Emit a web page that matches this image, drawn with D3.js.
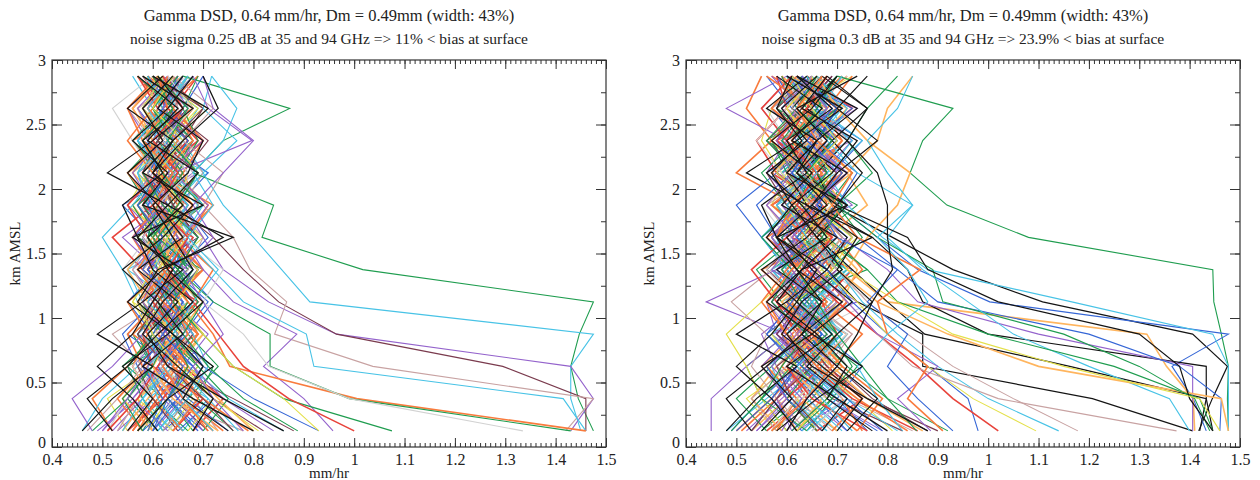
<!DOCTYPE html>
<html><head><meta charset="utf-8">
<script src="https://cdn.jsdelivr.net/npm/d3@7"></script>
<style>
body{margin:0;background:#fff}
svg{display:block}
text{font-family:"Liberation Serif","Times New Roman",serif;fill:#222}
</style>
</head><body>
<svg id="c" width="1260" height="480"></svg>
<script>
// ---------------- DATA ----------------
const heights = [0.125,0.375,0.625,0.875,1.125,1.375,1.625,1.875,2.125,2.375,2.625,2.875];
const xTickValues = [0.4,0.5,0.6,0.7,0.8,0.9,1,1.1,1.2,1.3,1.4,1.5];
const yTickValues = [0,0.5,1,1.5,2,2.5,3];
const titleLine1 = ["Gamma DSD, 0.64 mm/hr, Dm = 0.49mm (width: 43%)","Gamma DSD, 0.64 mm/hr, Dm = 0.49mm (width: 43%)"];
const titleLine2 = ["noise sigma 0.25 dB at 35 and 94 GHz => 11% < bias at surface","noise sigma 0.3 dB at 35 and 94 GHz => 23.9% < bias at surface"];
const xLabel = "mm/hr";
const yLabel = "km AMSL";

// profiles: values (mm/hr) at each height, bottom to top
const leftBundle = [
[0.58,0.62,0.55,0.66,0.60,0.70,0.57,0.64,0.59,0.68,0.61,0.63],
[0.66,0.59,0.68,0.57,0.64,0.55,0.67,0.60,0.71,0.58,0.65,0.60],
[0.50,0.56,0.62,0.58,0.67,0.61,0.54,0.63,0.57,0.66,0.59,0.62],
[0.72,0.65,0.58,0.69,0.62,0.57,0.66,0.72,0.61,0.56,0.68,0.64],
[0.62,0.70,0.64,0.55,0.61,0.68,0.60,0.54,0.65,0.62,0.57,0.66],
[0.55,0.51,0.60,0.64,0.57,0.63,0.70,0.62,0.56,0.64,0.71,0.58],
[0.68,0.74,0.66,0.61,0.69,0.59,0.63,0.67,0.58,0.61,0.64,0.69],
[0.47,0.53,0.58,0.52,0.62,0.66,0.58,0.61,0.67,0.60,0.55,0.61],
[0.60,0.57,0.65,0.70,0.63,0.58,0.61,0.56,0.63,0.70,0.62,0.57],
[0.76,0.69,0.72,0.63,0.58,0.64,0.59,0.66,0.60,0.57,0.63,0.67],
[0.53,0.60,0.56,0.62,0.66,0.60,0.65,0.58,0.69,0.63,0.58,0.65],
[0.64,0.58,0.62,0.59,0.55,0.62,0.68,0.63,0.57,0.65,0.69,0.60],
[0.57,0.66,0.71,0.65,0.60,0.54,0.59,0.65,0.62,0.56,0.61,0.68],
[0.70,0.63,0.59,0.67,0.72,0.66,0.61,0.57,0.64,0.60,0.66,0.62],
[0.52,0.48,0.55,0.60,0.57,0.64,0.62,0.68,0.60,0.63,0.58,0.64],
[0.82,0.72,0.64,0.60,0.66,0.61,0.56,0.62,0.66,0.71,0.63,0.59],
[0.61,0.55,0.60,0.56,0.63,0.69,0.64,0.59,0.55,0.61,0.67,0.62],
[0.66,0.71,0.61,0.65,0.59,0.63,0.57,0.64,0.70,0.66,0.60,0.56],
[0.49,0.57,0.63,0.68,0.61,0.56,0.62,0.58,0.64,0.59,0.55,0.63],
[0.74,0.66,0.70,0.62,0.68,0.72,0.65,0.61,0.58,0.64,0.62,0.69],
[0.59,0.64,0.57,0.54,0.60,0.65,0.71,0.66,0.61,0.67,0.60,0.65],
[0.63,0.68,0.62,0.66,0.56,0.60,0.63,0.55,0.59,0.62,0.70,0.61],
[0.56,0.61,0.66,0.59,0.64,0.58,0.52,0.60,0.66,0.58,0.63,0.57],
[0.78,0.62,0.57,0.63,0.69,0.64,0.60,0.67,0.63,0.69,0.65,0.62],
[0.54,0.59,0.64,0.70,0.65,0.59,0.66,0.62,0.56,0.60,0.57,0.66],
[0.67,0.60,0.54,0.61,0.58,0.67,0.62,0.70,0.65,0.59,0.64,0.60],
[0.60,0.66,0.60,0.57,0.63,0.57,0.64,0.59,0.68,0.64,0.59,0.63],
[0.86,0.75,0.67,0.64,0.60,0.62,0.58,0.63,0.60,0.66,0.61,0.67],
[0.51,0.55,0.61,0.66,0.70,0.63,0.67,0.57,0.62,0.57,0.66,0.61],
[0.65,0.72,0.68,0.60,0.55,0.61,0.56,0.65,0.71,0.62,0.58,0.64],
[0.58,0.53,0.59,0.64,0.62,0.70,0.63,0.60,0.55,0.63,0.68,0.59],
[0.71,0.64,0.60,0.58,0.65,0.59,0.69,0.64,0.60,0.67,0.62,0.66],
[0.62,0.67,0.73,0.67,0.61,0.65,0.60,0.56,0.63,0.58,0.64,0.60],
[0.46,0.50,0.57,0.62,0.58,0.55,0.61,0.67,0.62,0.65,0.60,0.64],
[0.69,0.62,0.66,0.71,0.64,0.60,0.58,0.62,0.58,0.61,0.67,0.63],
[0.57,0.63,0.58,0.55,0.61,0.66,0.64,0.69,0.66,0.60,0.56,0.62],
[0.93,0.80,0.70,0.66,0.62,0.58,0.64,0.60,0.64,0.57,0.62,0.68],
[0.64,0.57,0.63,0.60,0.67,0.63,0.57,0.62,0.57,0.63,0.69,0.61],
[0.55,0.62,0.67,0.63,0.58,0.64,0.68,0.58,0.61,0.69,0.63,0.58],
[0.73,0.68,0.61,0.68,0.63,0.57,0.62,0.66,0.70,0.65,0.60,0.65],
[0.60,0.54,0.59,0.65,0.70,0.62,0.66,0.61,0.58,0.62,0.58,0.62],
[0.68,0.63,0.69,0.62,0.57,0.61,0.59,0.64,0.62,0.56,0.62,0.66],
[0.52,0.58,0.55,0.61,0.64,0.68,0.61,0.55,0.60,0.64,0.67,0.60],
[0.77,0.71,0.65,0.59,0.62,0.66,0.63,0.67,0.61,0.67,0.61,0.63],
[0.63,0.69,0.62,0.67,0.60,0.56,0.65,0.60,0.66,0.61,0.57,0.67],
[0.58,0.65,0.70,0.63,0.66,0.62,0.58,0.63,0.59,0.64,0.64,0.59],
[0.66,0.60,0.56,0.59,0.55,0.63,0.67,0.71,0.64,0.59,0.61,0.64],
[0.88,0.76,0.63,0.68,0.64,0.59,0.62,0.58,0.62,0.66,0.70,0.62],
[0.48,0.55,0.60,0.57,0.62,0.65,0.60,0.64,0.69,0.63,0.60,0.66],
[0.61,0.66,0.64,0.69,0.66,0.60,0.64,0.59,0.57,0.60,0.65,0.58],
[0.70,0.65,0.58,0.62,0.59,0.67,0.56,0.61,0.65,0.68,0.62,0.65],
[0.56,0.60,0.65,0.56,0.63,0.58,0.63,0.68,0.61,0.58,0.55,0.61],
[0.75,0.67,0.62,0.66,0.71,0.64,0.69,0.63,0.59,0.63,0.66,0.70],
[0.59,0.63,0.69,0.64,0.58,0.62,0.57,0.65,0.67,0.61,0.68,0.63],
[0.64,0.70,0.60,0.58,0.64,0.69,0.62,0.57,0.63,0.70,0.64,0.60],
[0.53,0.57,0.62,0.67,0.60,0.56,0.60,0.66,0.58,0.62,0.59,0.62],
[0.80,0.73,0.67,0.62,0.67,0.61,0.65,0.62,0.66,0.59,0.63,0.67],
[0.62,0.58,0.55,0.60,0.65,0.63,0.59,0.70,0.63,0.67,0.60,0.64],
[0.48,0.44,0.52,0.58,0.63,0.59,0.64,0.60,0.66,0.61,0.57,0.63],
[0.62,0.58,0.64,0.60,0.57,0.54,0.50,0.56,0.61,0.65,0.60,0.66],
[0.60,0.64,0.59,0.66,0.62,0.58,0.63,0.57,0.60,0.56,0.52,0.60],
[0.60,0.65,0.61,0.67,0.63,0.59,0.65,0.61,0.67,0.62,0.66,0.61],
[0.57,0.61,0.67,0.61,0.57,0.63,0.60,0.66,0.60,0.65,0.59,0.65],
[0.65,0.60,0.57,0.63,0.68,0.62,0.58,0.63,0.58,0.61,0.67,0.62],
[0.70,0.75,0.69,0.64,0.61,0.67,0.63,0.58,0.64,0.68,0.62,0.59],
[0.54,0.58,0.63,0.58,0.62,0.57,0.62,0.67,0.62,0.57,0.62,0.67],
[0.63,0.56,0.61,0.66,0.62,0.68,0.65,0.60,0.56,0.62,0.67,0.63],
[0.79,0.70,0.64,0.69,0.65,0.60,0.56,0.61,0.66,0.70,0.64,0.60],
[0.59,0.62,0.58,0.62,0.68,0.64,0.67,0.63,0.69,0.64,0.58,0.62],
[0.67,0.72,0.66,0.60,0.56,0.60,0.63,0.68,0.63,0.58,0.63,0.68],
[0.51,0.57,0.61,0.65,0.60,0.64,0.59,0.55,0.61,0.67,0.61,0.57],
[0.62,0.67,0.62,0.58,0.62,0.67,0.70,0.64,0.59,0.62,0.65,0.64],
[0.73,0.64,0.60,0.64,0.59,0.55,0.60,0.66,0.64,0.60,0.56,0.61],
[0.58,0.54,0.60,0.63,0.67,0.63,0.61,0.57,0.65,0.69,0.66,0.69],
[0.84,0.74,0.68,0.62,0.66,0.62,0.66,0.62,0.58,0.64,0.60,0.65],
[0.61,0.67,0.71,0.68,0.63,0.60,0.64,0.69,0.62,0.57,0.62,0.59],
[0.55,0.60,0.56,0.61,0.57,0.62,0.58,0.63,0.68,0.63,0.67,0.62],
[0.69,0.63,0.66,0.60,0.64,0.69,0.62,0.59,0.63,0.67,0.61,0.66],
[0.64,0.69,0.64,0.69,0.62,0.57,0.61,0.65,0.60,0.55,0.60,0.63],
[0.76,0.70,0.63,0.57,0.61,0.65,0.69,0.64,0.61,0.64,0.70,0.60],
[0.57,0.63,0.67,0.64,0.69,0.65,0.59,0.61,0.66,0.61,0.64,0.57],
[0.66,0.61,0.59,0.65,0.59,0.63,0.66,0.60,0.57,0.63,0.59,0.64],
[0.50,0.55,0.59,0.63,0.58,0.61,0.56,0.62,0.64,0.60,0.63,0.68],
[0.71,0.66,0.62,0.67,0.64,0.70,0.64,0.68,0.62,0.68,0.64,0.61],
[0.60,0.63,0.68,0.62,0.66,0.58,0.62,0.57,0.61,0.59,0.62,0.65],
[0.81,0.72,0.65,0.60,0.57,0.61,0.67,0.63,0.69,0.64,0.58,0.62]
];
const leftBlack = [
[0.46,0.52,0.60,0.49,0.58,0.66,0.56,0.70,0.58,0.64,0.55,0.62],
[0.57,0.63,0.72,0.64,0.55,0.62,0.74,0.63,0.51,0.60,0.68,0.58],
[0.80,0.68,0.58,0.66,0.61,0.54,0.62,0.68,0.60,0.66,0.73,0.70],
[0.52,0.47,0.55,0.61,0.68,0.60,0.57,0.54,0.62,0.58,0.66,0.61],
[0.68,0.72,0.65,0.58,0.62,0.68,0.64,0.60,0.67,0.70,0.61,0.66],
[0.86,0.74,0.63,0.59,0.65,0.57,0.66,0.61,0.55,0.62,0.58,0.64],
[0.61,0.56,0.49,0.56,0.60,0.64,0.57,0.63,0.69,0.59,0.65,0.57],
[0.75,0.66,0.70,0.64,0.57,0.61,0.76,0.58,0.63,0.56,0.63,0.68],
[0.55,0.60,0.54,0.63,0.70,0.63,0.59,0.66,0.60,0.64,0.71,0.60]
];
const leftTails = [
[1.475,1.445,1.43,1.447,1.475,1.017,0.817,0.84,0.68,0.74,0.872,0.66],
[1.45,1.43,1.43,1.475,0.912,0.856,0.80,0.74,0.70,0.767,0.70,0.717],
[1.43,1.475,1.43,0.965,0.83,0.74,0.70,0.66,0.63,0.70,0.62,0.66],
[1.46,1.46,1.295,0.965,0.85,0.78,0.72,0.64,0.69,0.61,0.66,0.60],
[1.42,1.475,1.037,0.842,0.866,0.793,0.76,0.70,0.74,0.66,0.72,0.64],
[0.958,0.90,0.82,0.886,0.76,0.70,0.66,0.71,0.64,0.797,0.71,0.68],
[1.46,1.415,0.92,0.905,0.78,0.72,0.66,0.70,0.64,0.60,0.63,0.67],
[1.46,1.005,0.753,0.72,0.67,0.62,0.66,0.60,0.64,0.58,0.63,0.61],
[1.43,0.99,0.833,0.833,0.72,0.65,0.69,0.62,0.58,0.64,0.60,0.65],
[1.335,0.99,0.83,0.78,0.70,0.74,0.66,0.61,0.67,0.62,0.68,0.63],
[1.075,0.86,0.76,0.70,0.64,0.68,0.61,0.66,0.62,0.58,0.64,0.60],
[1.0,0.87,0.78,0.73,0.68,0.63,0.67,0.61,0.65,0.60,0.66,0.62],
[0.93,0.86,0.76,0.70,0.65,0.69,0.62,0.66,0.61,0.66,0.60,0.64],
[0.888,0.78,0.71,0.66,0.70,0.64,0.60,0.65,0.69,0.63,0.67,0.61],
[0.72,0.66,0.70,0.64,0.68,0.73,0.67,0.72,0.68,0.74,0.767,0.717],
[0.78,0.72,0.68,0.74,0.70,0.66,0.72,0.68,0.74,0.80,0.72,0.70]
];
const leftTailColors = ["green","cyan","purple","maroon","rosy","purple","cyan","orange","green","gray","green","red","yellow","green","cyan","purple"];

const rightBundle = [
[0.55,0.63,0.71,0.60,0.68,0.57,0.66,0.74,0.62,0.69,0.58,0.65],
[0.70,0.61,0.56,0.67,0.59,0.72,0.63,0.58,0.70,0.61,0.67,0.60],
[0.62,0.72,0.65,0.57,0.74,0.64,0.56,0.65,0.59,0.73,0.64,0.69],
[0.50,0.57,0.63,0.70,0.62,0.55,0.69,0.61,0.67,0.58,0.71,0.62],
[0.78,0.68,0.60,0.64,0.70,0.63,0.59,0.70,0.64,0.62,0.57,0.66],
[0.58,0.52,0.61,0.66,0.58,0.67,0.74,0.63,0.56,0.66,0.62,0.73],
[0.66,0.75,0.68,0.62,0.65,0.60,0.66,0.57,0.68,0.59,0.70,0.62],
[0.85,0.72,0.66,0.73,0.64,0.70,0.61,0.67,0.61,0.69,0.63,0.58],
[0.53,0.60,0.55,0.62,0.71,0.62,0.58,0.64,0.73,0.65,0.57,0.64],
[0.64,0.69,0.74,0.66,0.60,0.76,0.67,0.60,0.66,0.56,0.66,0.71],
[0.72,0.64,0.58,0.55,0.63,0.58,0.64,0.71,0.58,0.64,0.74,0.60],
[0.48,0.56,0.64,0.69,0.60,0.65,0.71,0.66,0.62,0.70,0.61,0.67],
[0.61,0.67,0.60,0.64,0.77,0.68,0.60,0.55,0.65,0.61,0.58,0.64],
[0.76,0.70,0.62,0.59,0.66,0.61,0.55,0.63,0.69,0.75,0.65,0.62],
[0.57,0.62,0.69,0.75,0.67,0.59,0.64,0.70,0.60,0.63,0.68,0.57],
[0.88,0.77,0.70,0.64,0.58,0.66,0.62,0.58,0.64,0.58,0.63,0.69],
[0.60,0.55,0.52,0.60,0.65,0.71,0.63,0.68,0.73,0.66,0.60,0.63],
[0.67,0.73,0.66,0.70,0.62,0.57,0.68,0.62,0.57,0.64,0.71,0.66],
[0.52,0.59,0.66,0.58,0.56,0.64,0.59,0.73,0.66,0.60,0.55,0.61],
[0.74,0.66,0.59,0.63,0.69,0.75,0.70,0.64,0.60,0.68,0.64,0.72],
[0.63,0.70,0.75,0.67,0.61,0.63,0.57,0.66,0.70,0.62,0.66,0.60],
[0.81,0.74,0.64,0.56,0.64,0.60,0.65,0.59,0.63,0.57,0.62,0.66],
[0.56,0.64,0.60,0.66,0.72,0.66,0.73,0.67,0.57,0.65,0.73,0.64],
[0.69,0.62,0.68,0.73,0.65,0.56,0.62,0.56,0.62,0.70,0.60,0.68],
[0.59,0.53,0.58,0.65,0.60,0.69,0.66,0.71,0.67,0.62,0.67,0.59],
[0.92,0.80,0.72,0.65,0.70,0.64,0.59,0.65,0.59,0.66,0.58,0.63],
[0.54,0.61,0.67,0.62,0.57,0.61,0.67,0.62,0.71,0.58,0.64,0.70],
[0.65,0.71,0.63,0.57,0.66,0.72,0.64,0.58,0.65,0.72,0.69,0.61],
[0.73,0.67,0.72,0.68,0.61,0.66,0.60,0.69,0.62,0.60,0.56,0.65],
[0.49,0.55,0.62,0.71,0.64,0.58,0.70,0.63,0.56,0.67,0.62,0.58],
[0.62,0.58,0.65,0.61,0.68,0.63,0.56,0.67,0.64,0.69,0.65,0.67],
[0.83,0.69,0.61,0.68,0.62,0.70,0.66,0.60,0.68,0.63,0.71,0.62],
[0.57,0.65,0.70,0.64,0.59,0.54,0.62,0.70,0.61,0.57,0.63,0.70],
[0.68,0.60,0.57,0.63,0.73,0.67,0.73,0.66,0.59,0.65,0.59,0.64],
[0.61,0.68,0.64,0.58,0.65,0.60,0.65,0.59,0.67,0.73,0.66,0.60],
[0.75,0.71,0.66,0.72,0.60,0.64,0.58,0.64,0.70,0.61,0.68,0.73],
[0.53,0.58,0.62,0.67,0.63,0.69,0.64,0.71,0.64,0.68,0.61,0.66],
[0.66,0.62,0.69,0.60,0.56,0.62,0.69,0.57,0.60,0.64,0.70,0.62],
[0.86,0.73,0.65,0.70,0.67,0.73,0.61,0.68,0.66,0.58,0.64,0.68],
[0.60,0.66,0.58,0.64,0.70,0.59,0.67,0.62,0.72,0.63,0.57,0.65],
[0.70,0.63,0.71,0.66,0.59,0.66,0.71,0.65,0.58,0.66,0.72,0.61],
[0.56,0.50,0.57,0.63,0.67,0.62,0.57,0.64,0.69,0.61,0.66,0.63],
[0.79,0.68,0.63,0.58,0.64,0.70,0.65,0.72,0.64,0.70,0.63,0.57],
[0.64,0.72,0.67,0.72,0.63,0.57,0.63,0.58,0.63,0.59,0.68,0.66],
[0.58,0.63,0.70,0.65,0.71,0.65,0.70,0.66,0.70,0.64,0.60,0.72],
[0.72,0.66,0.60,0.67,0.62,0.68,0.60,0.63,0.57,0.62,0.65,0.61],
[0.51,0.58,0.64,0.59,0.66,0.61,0.66,0.70,0.66,0.71,0.67,0.64],
[0.90,0.76,0.68,0.63,0.57,0.64,0.69,0.61,0.68,0.65,0.59,0.67],
[0.62,0.69,0.63,0.69,0.65,0.72,0.62,0.67,0.60,0.57,0.64,0.60],
[0.68,0.61,0.67,0.62,0.69,0.60,0.58,0.65,0.71,0.66,0.71,0.65],
[0.45,0.45,0.52,0.60,0.44,0.58,0.64,0.59,0.66,0.61,0.68,0.63],
[0.58,0.62,0.56,0.63,0.60,0.66,0.58,0.62,0.50,0.57,0.52,0.55],
[0.63,0.57,0.62,0.56,0.64,0.60,0.55,0.50,0.58,0.66,0.60,0.64],
[0.60,0.55,0.52,0.48,0.55,0.62,0.57,0.63,0.59,0.55,0.57,0.62],
[0.66,0.60,0.67,0.62,0.58,0.64,0.60,0.66,0.58,0.54,0.60,0.58],
[0.64,0.58,0.53,0.56,0.49,0.57,0.63,0.58,0.64,0.60,0.66,0.61],
[0.62,0.67,0.60,0.66,0.71,0.74,0.68,0.76,0.72,0.78,0.80,0.85],
[0.66,0.60,0.65,0.70,0.64,0.69,0.75,0.70,0.77,0.72,0.76,0.82],
[0.61,0.58,0.64,0.60,0.66,0.61,0.57,0.62,0.56,0.60,0.48,0.60],
[0.63,0.70,0.64,0.71,0.65,0.59,0.67,0.62,0.69,0.63,0.68,0.62],
[0.57,0.62,0.69,0.62,0.56,0.64,0.60,0.68,0.61,0.67,0.59,0.67],
[0.67,0.60,0.56,0.64,0.71,0.64,0.58,0.65,0.58,0.62,0.70,0.63],
[0.74,0.79,0.71,0.65,0.61,0.69,0.64,0.57,0.65,0.71,0.63,0.59],
[0.53,0.58,0.65,0.58,0.63,0.56,0.63,0.70,0.63,0.56,0.63,0.69],
[0.64,0.55,0.61,0.68,0.62,0.71,0.67,0.60,0.55,0.62,0.70,0.64],
[0.82,0.72,0.65,0.71,0.66,0.60,0.55,0.61,0.68,0.73,0.65,0.60],
[0.59,0.63,0.57,0.62,0.70,0.65,0.69,0.64,0.72,0.65,0.57,0.62],
[0.69,0.75,0.67,0.60,0.55,0.60,0.64,0.70,0.64,0.57,0.64,0.71],
[0.50,0.57,0.62,0.67,0.60,0.65,0.58,0.54,0.61,0.70,0.61,0.56],
[0.62,0.68,0.62,0.57,0.62,0.69,0.73,0.65,0.58,0.62,0.67,0.65],
[0.76,0.65,0.60,0.65,0.58,0.53,0.60,0.68,0.65,0.60,0.55,0.61],
[0.58,0.53,0.60,0.64,0.70,0.64,0.61,0.56,0.66,0.72,0.67,0.71],
[0.87,0.76,0.69,0.62,0.67,0.62,0.67,0.62,0.57,0.65,0.60,0.66],
[0.61,0.68,0.73,0.69,0.63,0.59,0.65,0.72,0.62,0.56,0.62,0.59],
[0.54,0.60,0.55,0.61,0.56,0.62,0.57,0.64,0.71,0.64,0.69,0.62],
[0.71,0.64,0.67,0.60,0.65,0.72,0.62,0.58,0.64,0.69,0.61,0.67],
[0.65,0.71,0.65,0.72,0.62,0.56,0.61,0.66,0.59,0.54,0.60,0.64],
[0.79,0.72,0.63,0.56,0.61,0.66,0.72,0.65,0.61,0.65,0.73,0.60],
[0.57,0.64,0.69,0.65,0.72,0.66,0.58,0.61,0.67,0.61,0.65,0.56],
[0.67,0.61,0.58,0.66,0.58,0.63,0.67,0.60,0.56,0.64,0.58,0.65],
[0.49,0.55,0.59,0.64,0.57,0.61,0.55,0.62,0.65,0.59,0.64,0.70],
[0.73,0.67,0.62,0.69,0.65,0.73,0.65,0.70,0.62,0.70,0.65,0.61],
[0.60,0.64,0.70,0.62,0.67,0.57,0.62,0.56,0.61,0.58,0.62,0.66],
[0.84,0.74,0.66,0.60,0.56,0.61,0.69,0.64,0.71,0.65,0.57,0.62]
];
const rightBlack = [
[0.48,0.54,0.62,0.50,0.60,0.68,0.58,0.72,0.60,0.66,0.56,0.64],
[0.58,0.66,0.75,0.65,0.56,0.63,0.77,0.64,0.52,0.62,0.71,0.60],
[0.80,0.70,0.60,0.69,0.62,0.55,0.64,0.70,0.62,0.68,0.62,0.74],
[0.53,0.48,0.56,0.63,0.71,0.62,0.58,0.55,0.64,0.60,0.69,0.62],
[0.70,0.75,0.67,0.59,0.63,0.71,0.66,0.61,0.69,0.74,0.63,0.68],
[0.88,0.76,0.65,0.60,0.67,0.58,0.68,0.63,0.56,0.64,0.59,0.66],
[0.62,0.57,0.50,0.57,0.62,0.66,0.58,0.65,0.72,0.61,0.67,0.58],
[0.77,0.68,0.72,0.66,0.58,0.63,0.70,0.59,0.65,0.57,0.65,0.70],
[0.55,0.61,0.55,0.65,0.73,0.65,0.60,0.68,0.62,0.66,0.74,0.62],
[0.67,0.72,0.64,0.70,0.77,0.70,0.74,0.65,0.70,0.78,0.70,0.76],
[0.60,0.64,0.70,0.63,0.67,0.62,0.56,0.61,0.57,0.63,0.58,0.61]
];
const rightTails = [
[1.477,1.475,1.477,1.463,1.448,1.446,1.08,0.918,0.845,0.87,0.93,0.70],
[1.418,1.445,1.475,1.406,1.108,0.93,0.81,0.69,0.66,0.72,0.64,0.70],
[1.433,1.407,1.365,1.477,1.003,0.86,0.78,0.70,0.74,0.66,0.70,0.63],
[1.477,1.477,1.477,1.446,1.166,0.88,0.79,0.72,0.68,0.75,0.66,0.71],
[1.41,1.407,1.354,1.315,0.80,0.72,0.76,0.82,0.845,0.76,0.70,0.66],
[1.446,1.433,1.433,1.0,0.87,0.84,0.77,0.66,0.70,0.62,0.68,0.64],
[1.42,1.433,1.162,0.874,0.80,0.73,0.66,0.72,0.63,0.69,0.61,0.67],
[1.406,1.207,0.87,0.87,0.74,0.68,0.72,0.64,0.60,0.66,0.70,0.62],
[1.406,1.406,1.406,1.10,0.86,0.80,0.71,0.66,0.72,0.64,0.59,0.65],
[1.46,1.463,1.38,1.2,0.90,0.82,0.74,0.69,0.63,0.70,0.66,0.61],
[1.44,1.41,1.30,1.15,0.91,0.89,0.78,0.70,0.66,0.60,0.67,0.64],
[1.40,1.36,1.2,1.05,0.96,0.87,0.80,0.85,0.74,0.68,0.72,0.66],
[1.477,1.463,1.10,0.92,0.78,0.70,0.64,0.69,0.62,0.67,0.62,0.68],
[1.446,1.42,1.25,1.0,0.82,0.76,0.68,0.63,0.68,0.62,0.66,0.70],
[1.446,1.40,1.38,1.30,1.02,0.88,0.84,0.70,0.75,0.69,0.76,0.67],
[1.46,1.42,1.15,0.93,0.82,0.72,0.68,0.63,0.69,0.64,0.60,0.66],
[0.98,0.96,0.88,0.80,0.73,0.68,0.62,0.67,0.61,0.66,0.70,0.63],
[1.02,0.93,0.86,0.78,0.70,0.64,0.69,0.62,0.66,0.60,0.64,0.68],
[1.095,0.97,0.88,0.80,0.74,0.67,0.63,0.68,0.64,0.70,0.65,0.61],
[1.14,1.0,0.90,0.82,0.75,0.70,0.64,0.60,0.66,0.62,0.68,0.64],
[1.178,1.05,0.93,0.84,0.76,0.70,0.65,0.70,0.63,0.67,0.61,0.65],
[1.374,1.02,0.85,0.78,0.72,0.66,0.71,0.65,0.60,0.64,0.68,0.62],
[0.858,0.80,0.75,0.70,0.66,0.62,0.67,0.71,0.64,0.69,0.62,0.66],
[0.886,0.82,0.90,0.78,0.72,0.66,0.61,0.66,0.70,0.64,0.68,0.63],
[0.93,0.86,0.80,0.84,0.76,0.82,0.70,0.66,0.71,0.64,0.69,0.62],
[0.91,0.84,0.88,0.80,0.78,0.865,0.74,0.69,0.73,0.66,0.62,0.67],
[0.83,0.78,0.74,0.80,0.88,0.84,0.78,0.85,0.80,0.76,0.82,0.85],
[0.72,0.78,0.70,0.74,0.77,0.81,0.80,0.80,0.78,0.72,0.76,0.68]
];
const rightTailColors = ["green","black","blue","cyan","lorange","black","black","black","purple","blue","green","cyan","lorange","green","black","yellow","blue","red","yellow","cyan","rosy","rosy","green","purple","blue","orange","cyan","black"];

// ---------------- STYLE ----------------
const palette = {
  green:"#1f9d4f", cyan:"#48c3e6", purple:"#9463cc", orange:"#f97b3d", blue:"#3566d6",
  yellow:"#e4e04a", red:"#e8433b", rosy:"#c8a2a2", lorange:"#ffb55e", gray:"#d2d2d2",
  maroon:"#7a3b4e", black:"#141414"
};
const bundleCycle = ["green","cyan","purple","orange","blue","yellow","red","rosy","lorange","green","purple","cyan","gray","blue","orange","maroon"];
const widthOf = k => (k==="orange"||k==="lorange"||k==="red") ? 1.6 : (k==="black" ? 1.2 : 1.1);

const svg = d3.select("#c");
const panels = [
  {x0:52, x1:606, bundle:leftBundle, black:leftBlack, tails:leftTails, tailColors:leftTailColors},
  {x0:686, x1:1240, bundle:rightBundle, black:rightBlack, tails:rightTails, tailColors:rightTailColors}
];
const yTop = 60, yBot = 447;

panels.forEach((p, i) => {
  const x = d3.scaleLinear().domain([0.4,1.5]).range([p.x0, p.x1]);
  const y = d3.scaleLinear().domain([0,3]).range([yBot, yTop]);
  const g = svg.append("g");
  const line = d3.line().x(d => x(d[0])).y(d => y(d[1]));
  const toPts = vals => vals.map((v,j) => [v, heights[j]]);

  const lg = g.append("g").attr("fill","none").attr("stroke-linejoin","miter");
  p.bundle.forEach((vals, j) => {
    const k = bundleCycle[j % bundleCycle.length];
    lg.append("path").attr("d", line(toPts(vals))).attr("stroke", palette[k]).attr("stroke-width", widthOf(k));
  });
  p.tails.forEach((vals, j) => {
    const k = p.tailColors[j];
    lg.append("path").attr("d", line(toPts(vals))).attr("stroke", palette[k]).attr("stroke-width", widthOf(k));
  });
  p.black.forEach(vals => {
    lg.append("path").attr("d", line(toPts(vals))).attr("stroke", palette.black).attr("stroke-width", 1.2);
  });

  const minorX = d3.range(40,151).map(v => v/100);
  const minorY = d3.range(0,13).map(v => v*0.25);
  const axStyle = sel => { sel.select(".domain").remove(); sel.selectAll("line").attr("stroke","#333"); sel.selectAll("text").attr("font-size","16px").attr("fill","#222"); };

  g.append("g").attr("transform",`translate(0,${yBot})`).call(d3.axisBottom(x).tickValues(minorX).tickSize(-4).tickFormat("")).call(axStyle);
  g.append("g").attr("transform",`translate(0,${yBot})`).call(d3.axisBottom(x).tickValues(xTickValues).tickSize(-9).tickPadding(7).tickFormat(d3.format("~g"))).call(axStyle);
  g.append("g").attr("transform",`translate(0,${yTop})`).call(d3.axisTop(x).tickValues(minorX).tickSize(-4).tickFormat("")).call(axStyle);
  g.append("g").attr("transform",`translate(0,${yTop})`).call(d3.axisTop(x).tickValues(xTickValues).tickSize(-9).tickFormat("")).call(axStyle);
  g.append("g").attr("transform",`translate(${p.x0},0)`).call(d3.axisLeft(y).tickValues(minorY).tickSize(-5).tickFormat("")).call(axStyle);
  const yl = g.append("g").attr("transform",`translate(${p.x0},0)`).call(d3.axisLeft(y).tickValues(yTickValues).tickSize(-10).tickPadding(6).tickFormat(d3.format("~g"))).call(axStyle);
  yl.selectAll(".tick").filter(d => d === 0).select("text").attr("dy","0.05em");
  g.append("g").attr("transform",`translate(${p.x1},0)`).call(d3.axisRight(y).tickValues(minorY).tickSize(-5).tickFormat("")).call(axStyle);
  g.append("g").attr("transform",`translate(${p.x1},0)`).call(d3.axisRight(y).tickValues(yTickValues).tickSize(-10).tickFormat("")).call(axStyle);

  g.append("rect").attr("x",p.x0).attr("y",yTop).attr("width",p.x1-p.x0).attr("height",yBot-yTop)
    .attr("fill","none").attr("stroke","#333").attr("stroke-width",1.2);

  const cx = (p.x0 + p.x1)/2;
  g.append("text").attr("x",cx).attr("y",21).attr("text-anchor","middle").attr("font-size","16.5px").text(titleLine1[i]);
  g.append("text").attr("x",cx).attr("y",44).attr("text-anchor","middle").attr("font-size","15.5px").text(titleLine2[i]);
  g.append("text").attr("x",cx).attr("y",478).attr("text-anchor","middle").attr("font-size","15px").text(xLabel);
  g.append("text").attr("transform",`translate(${p.x0-32},${(yTop+yBot)/2}) rotate(-90)`).attr("text-anchor","middle").attr("font-size","15px").text(yLabel);
});
</script>
</body></html>
